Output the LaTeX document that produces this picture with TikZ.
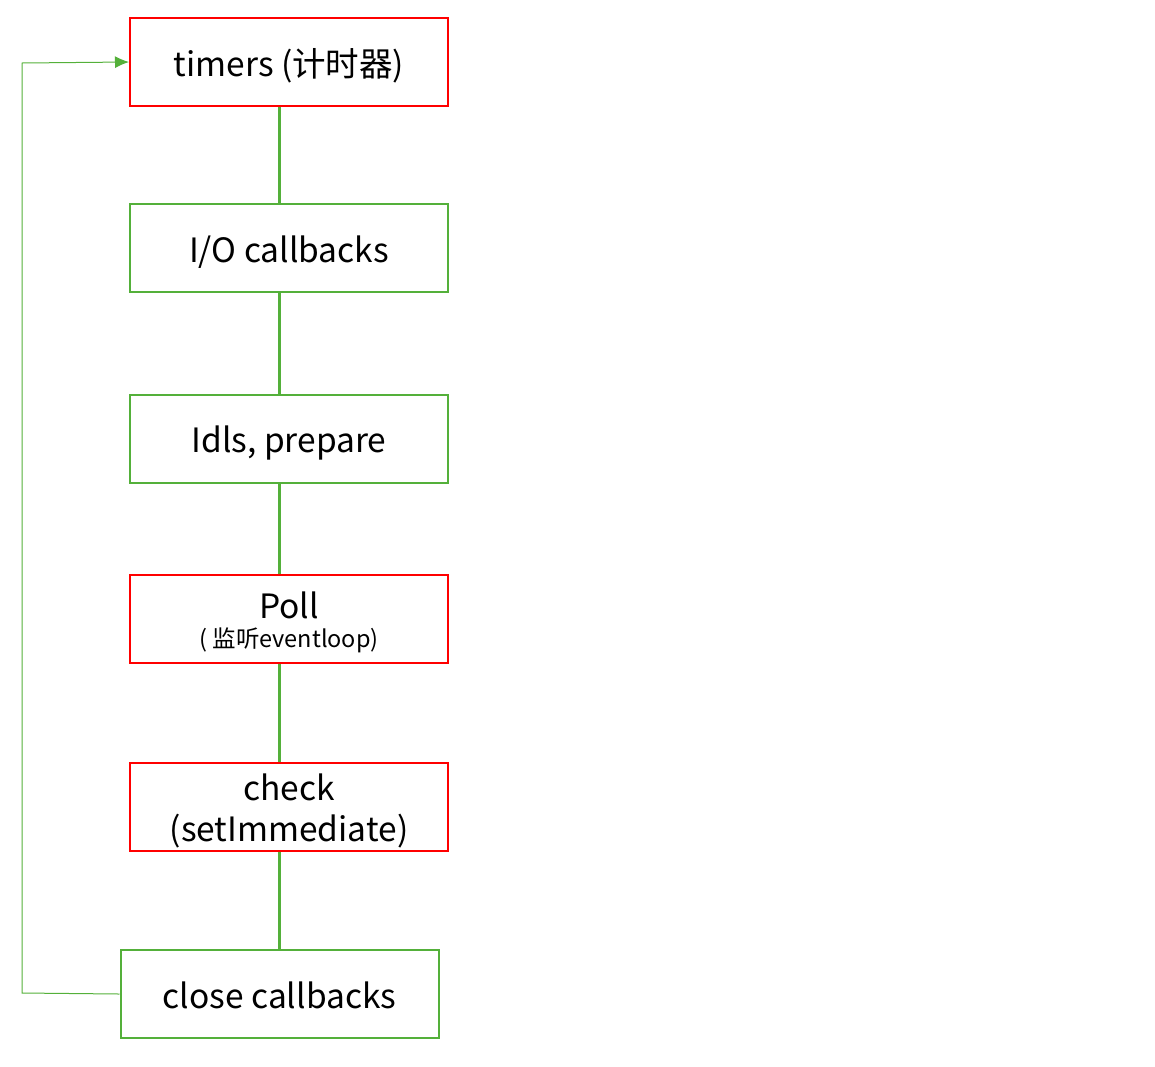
\documentclass[tikz,border=0pt]{standalone}
\usepackage{fontspec}
\setmainfont{Noto Sans CJK SC}
\usetikzlibrary{arrows.meta}
\definecolor{phasegreen}{RGB}{84,176,58}
\definecolor{phasered}{RGB}{255,0,0}
\newcommand\phaselabel[1]{\raisebox{-6pt}[\height][\depth]{\begin{tabular}{@{}c@{}}#1\end{tabular}}}

\begin{document}
\begin{tikzpicture}[>={Latex[length=14pt,width=12pt]},x=1pt,y=-1pt,
  phase/.style={rectangle, draw=phasegreen, line width=2pt, minimum width=318pt,
    minimum height=88pt, inner sep=0pt, align=center, font=\fontsize{33.5}{41}\selectfont},
  hot/.style={phase, draw=phasered},
  link/.style={draw=phasegreen, line width=2.2pt}]
\useasboundingbox (0,0) rectangle (1155,1066);

% define the phases of the loop
  \node[hot]   (timers) at (289,62)
{\phaselabel{timers (计时器)}};
  \node[phase] (io)     at (289,248)
{\phaselabel{I/O callbacks}};
  \node[phase] (idle)   at (289,438.5)
{\phaselabel{Idls, prepare}};
  \node[hot]   (poll)   at (289,619)
{\phaselabel{Poll\\[-12pt]{\fontsize{23.5}{26}\selectfont( 监听eventloop)}}};
  \node[hot]   (check)  at (289,807)
{\phaselabel{check\\(setImmediate)}};
  \node[phase] (close)  at (279.5,994)
{\phaselabel{close callbacks}};
  \coordinate (loopbottom) at (22,993);
  \coordinate (looptop)    at (22,63);

% define the links
  \path[link] (timers.south -| close.north) -- (io.north -| close.north)
        (io.south -| close.north)     -- (idle.north -| close.north)
        (idle.south -| close.north)   -- (poll.north -| close.north)
        (poll.south -| close.north)   -- (check.north -| close.north)
        (check.south -| close.north)  -- (close.north);
  \draw[->, phasegreen, line width=1pt] (close.west) -- (loopbottom) -- (looptop) -- (timers.west);

\end{tikzpicture}
\end{document}
